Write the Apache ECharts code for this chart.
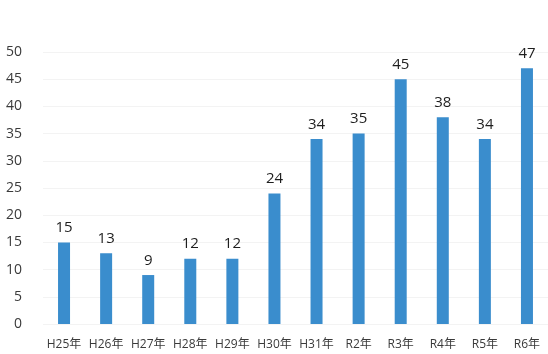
<!DOCTYPE html>
<html>
<head>
<meta charset="utf-8">
<script src="https://cdn.jsdelivr.net/npm/echarts@6/dist/echarts.min.js"></script>
<style>
  html, body { margin: 0; padding: 0; background: #ffffff; }
  #chart { width: 548px; height: 354px; }
</style>
</head>
<body>
<div id="chart"></div>
<script>
// Yearly counts, Heisei 25 through Reiwa 6
const categories = ['H25年', 'H26年', 'H27年', 'H28年', 'H29年', 'H30年', 'H31年', 'R2年', 'R3年', 'R4年', 'R5年', 'R6年'];
const counts = [15, 13, 9, 12, 12, 24, 34, 35, 45, 38, 34, 47];
const yTicks = [0, 5, 10, 15, 20, 25, 30, 35, 40, 45, 50];

const font = '"Open Sans", "Noto Sans CJK JP", sans-serif';

const chart = echarts.init(document.getElementById('chart'), null, { renderer: 'canvas' });
chart.setOption({
  animation: false,
  backgroundColor: '#ffffff',
  grid: { left: 43, right: -7, top: 52, bottom: 30, containLabel: false },
  xAxis: {
    type: 'category',
    data: categories,
    axisLine: { show: false },
    axisTick: { show: false },
    axisLabel: { color: '#3a3a3a', fontSize: 12, fontFamily: font, margin: 15, interval: 0 }
  },
  yAxis: {
    type: 'value',
    min: yTicks[0],
    max: yTicks[yTicks.length - 1],
    interval: 5,
    axisLine: { show: false },
    axisTick: { show: false },
    axisLabel: { color: '#3a3a3a', fontSize: 14, fontFamily: font, margin: 21 },
    splitLine: { lineStyle: { color: '#f3f3f3', width: 1 } }
  },
  series: [{
    type: 'bar',
    data: counts,
    barWidth: 12,
    itemStyle: { color: '#3a8dcd' },
    label: {
      show: true,
      position: 'top',
      distance: 7,
      color: '#1e1e1e',
      fontSize: 15,
      fontFamily: font
    }
  }]
});
</script>
</body>
</html>
